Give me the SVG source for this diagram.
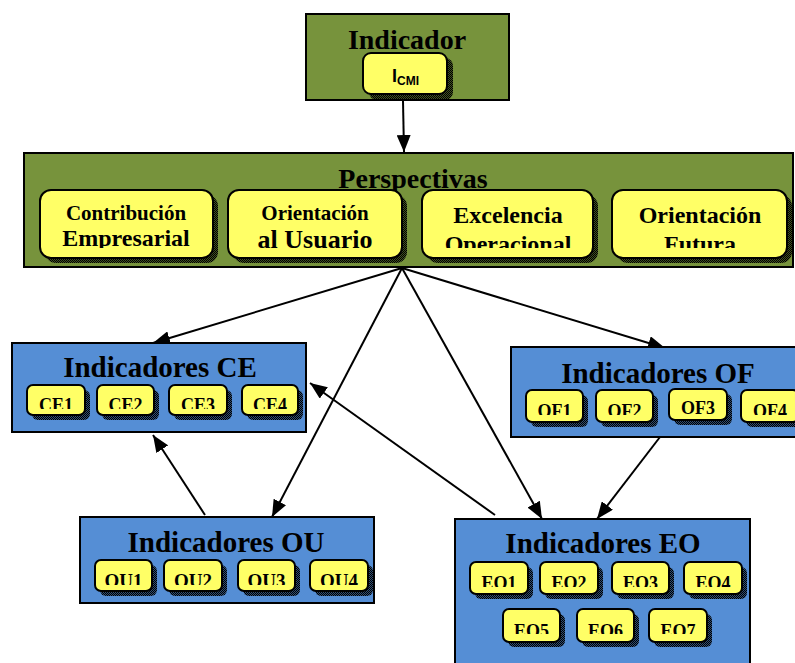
<svg xmlns="http://www.w3.org/2000/svg" width="795" height="663" viewBox="0 0 795 663">
<style>
.og{fill:#77933C;stroke:#000;stroke-width:2}
.ob{fill:#558ED5;stroke:#000;stroke-width:2}
.pill{fill:#FFFF66;stroke:#000;stroke-width:2}
.sh{fill:url(#dots)}
.t{font-family:"Liberation Serif","Times New Roman",serif;font-weight:bold;fill:#000;text-anchor:middle}
.s{font-family:"Liberation Sans",Arial,sans-serif;font-weight:bold;fill:#000}
.c{fill:none;stroke:#000;stroke-width:2;marker-end:url(#ah)}
</style>
<defs>
<pattern id="dots" width="2" height="2" patternUnits="userSpaceOnUse">
<rect x="0" y="0" width="1" height="1" fill="#000"/>
<rect x="1" y="1" width="1" height="1" fill="#000"/>
<rect x="1" y="0" width="1" height="1" fill="#000" fill-opacity="0.45"/>
<rect x="0" y="1" width="1" height="1" fill="#000" fill-opacity="0.45"/>
</pattern>
<marker id="ah" markerUnits="userSpaceOnUse" markerWidth="18" markerHeight="14" refX="17" refY="7" orient="auto">
<path d="M0,0 L17,7 L0,14 Z" fill="#000"/>
</marker>
<clipPath id="cp"><rect x="0" y="0" width="795" height="248"/></clipPath>
<clipPath id="cce"><rect x="0" y="0" width="795" height="409"/></clipPath>
<clipPath id="cof"><rect x="0" y="0" width="795" height="415"/></clipPath>
<clipPath id="cou"><rect x="0" y="0" width="795" height="585"/></clipPath>
<clipPath id="ceo1"><rect x="0" y="0" width="795" height="587"/></clipPath>
<clipPath id="ceo2"><rect x="0" y="0" width="795" height="634"/></clipPath>
</defs>
<rect width="795" height="663" fill="#fff"/>

<g id="connectors">
<line class="c" x1="403" y1="101" x2="404" y2="152"/>
<line class="c" x1="402" y1="268" x2="153" y2="343"/>
<line class="c" x1="402" y1="268" x2="272" y2="517"/>
<line class="c" x1="402" y1="268" x2="542" y2="519"/>
<line class="c" x1="402" y1="268" x2="665" y2="348"/>
<line class="c" x1="495" y1="515" x2="310" y2="383"/>
<line class="c" x1="205" y1="515" x2="153" y2="435"/>
<line class="c" x1="660" y1="437" x2="597" y2="519"/>
</g>

<g id="indicador">
<rect class="og" x="306" y="14" width="203" height="86"/>
<text class="t" x="407" y="49" font-size="28">Indicador</text>
<rect class="sh" x="369" y="58" width="84" height="42" rx="8"/>
<rect class="pill" x="363" y="53" width="84" height="41" rx="8"/>
<text class="s" x="392" y="82" font-size="18">I<tspan font-size="12" dy="3">CMI</tspan></text>
</g>

<g id="perspectivas">
<rect class="og" x="24" y="153" width="769" height="114"/>
<text class="t" x="413" y="188" font-size="28">Perspectivas</text>
<rect class="sh" x="45" y="195" width="173" height="68" rx="11"/>
<rect class="sh" x="233" y="195" width="174" height="68" rx="11"/>
<rect class="sh" x="427" y="195" width="171" height="68" rx="11"/>
<rect class="sh" x="617" y="195" width="175" height="68" rx="11"/>
<g id="contribucion"><rect class="pill" x="40" y="190" width="173" height="68" rx="11"/></g>
<g id="orient-usuario"><rect class="pill" x="228" y="190" width="174" height="68" rx="11"/></g>
<g id="excelencia"><rect class="pill" x="422" y="190" width="171" height="68" rx="11"/></g>
<g id="orient-futura"><rect class="pill" x="612" y="190" width="175" height="68" rx="11"/></g>
<g clip-path="url(#cp)">
<text class="t" x="126" y="220" font-size="21">Contribución</text>
<text class="t" x="126" y="246" font-size="24">Empresarial</text>
<text class="t" x="315" y="220" font-size="21">Orientación</text>
<text class="t" x="315" y="248" font-size="26">al Usuario</text>
<text class="t" x="508" y="223" font-size="24">Excelencia</text>
<text class="t" x="508" y="252" font-size="24">Operacional</text>
<text class="t" x="700" y="223" font-size="24">Orientación</text>
<text class="t" x="700" y="252" font-size="24">Futura</text>
</g>
</g>

<g id="indicadores-ce">
<rect class="ob" x="12" y="343" width="294" height="89"/>
<text class="t" x="160" y="377" font-size="29">Indicadores CE</text>
<rect class="sh" x="32" y="390" width="58" height="30" rx="6"/>
<rect class="sh" x="102" y="390" width="57" height="30" rx="6"/>
<rect class="sh" x="174" y="390" width="58" height="30" rx="6"/>
<rect class="sh" x="247" y="390" width="56" height="30" rx="6"/>
<rect class="pill" x="27" y="385" width="58" height="30" rx="6"/>
<rect class="pill" x="97" y="385" width="57" height="30" rx="6"/>
<rect class="pill" x="169" y="385" width="58" height="30" rx="6"/>
<rect class="pill" x="242" y="385" width="56" height="30" rx="6"/>
<g clip-path="url(#cce)" font-size="18">
<text class="t" x="56" y="411">CE1</text>
<text class="t" x="125.5" y="411">CE2</text>
<text class="t" x="198" y="411">CE3</text>
<text class="t" x="270" y="411">CE4</text>
</g>
</g>

<g id="indicadores-of">
<rect class="ob" x="511" y="347" width="290" height="90"/>
<text class="t" x="658" y="383" font-size="29">Indicadores OF</text>
<rect class="sh" x="531" y="395" width="57" height="32" rx="6"/>
<rect class="sh" x="601" y="395" width="57" height="32" rx="6"/>
<rect class="sh" x="674" y="394" width="58" height="31" rx="6"/>
<rect class="sh" x="746" y="395" width="58" height="32" rx="6"/>
<rect class="pill" x="526" y="390" width="57" height="32" rx="6"/>
<rect class="pill" x="596" y="390" width="57" height="32" rx="6"/>
<rect class="pill" x="669" y="389" width="58" height="31" rx="6"/>
<rect class="pill" x="741" y="390" width="58" height="32" rx="6"/>
<g clip-path="url(#cof)" font-size="18">
<text class="t" x="554.5" y="417">OF1</text>
<text class="t" x="624.5" y="417">OF2</text>
<text class="t" x="770" y="417">OF4</text>
</g>
<text class="t" x="698" y="414" font-size="18">OF3</text>
</g>

<g id="indicadores-ou">
<rect class="ob" x="80" y="517" width="294" height="86"/>
<text class="t" x="226" y="552" font-size="29">Indicadores OU</text>
<rect class="sh" x="100" y="565" width="57" height="31" rx="6"/>
<rect class="sh" x="169" y="565" width="58" height="31" rx="6"/>
<rect class="sh" x="243" y="565" width="57" height="31" rx="6"/>
<rect class="sh" x="315" y="565" width="58" height="31" rx="6"/>
<rect class="pill" x="95" y="560" width="57" height="31" rx="6"/>
<rect class="pill" x="164" y="560" width="58" height="31" rx="6"/>
<rect class="pill" x="238" y="560" width="57" height="31" rx="6"/>
<rect class="pill" x="310" y="560" width="58" height="31" rx="6"/>
<g clip-path="url(#cou)" font-size="19">
<text class="t" x="123.5" y="587">OU1</text>
<text class="t" x="193" y="587">OU2</text>
<text class="t" x="266.5" y="587">OU3</text>
<text class="t" x="339" y="587">OU4</text>
</g>
</g>

<g id="indicadores-eo">
<rect class="ob" x="455" y="519" width="295" height="150"/>
<text class="t" x="603" y="553" font-size="29">Indicadores EO</text>
<rect class="sh" x="475" y="567" width="58" height="32" rx="6"/>
<rect class="sh" x="545" y="567" width="58" height="32" rx="6"/>
<rect class="sh" x="617" y="567" width="57" height="32" rx="6"/>
<rect class="sh" x="689" y="567" width="58" height="32" rx="6"/>
<rect class="sh" x="508" y="614" width="57" height="33" rx="6"/>
<rect class="sh" x="582" y="614" width="57" height="33" rx="6"/>
<rect class="sh" x="654" y="614" width="58" height="33" rx="6"/>
<rect class="pill" x="470" y="562" width="58" height="32" rx="6"/>
<rect class="pill" x="540" y="562" width="58" height="32" rx="6"/>
<rect class="pill" x="612" y="562" width="57" height="32" rx="6"/>
<rect class="pill" x="684" y="562" width="58" height="32" rx="6"/>
<rect class="pill" x="503" y="609" width="57" height="33" rx="6"/>
<rect class="pill" x="577" y="609" width="57" height="33" rx="6"/>
<rect class="pill" x="649" y="609" width="58" height="33" rx="6"/>
<g clip-path="url(#ceo1)" font-size="18">
<text class="t" x="499" y="589">EO1</text>
<text class="t" x="569" y="589">EO2</text>
<text class="t" x="640.5" y="589">EO3</text>
<text class="t" x="713" y="589">EO4</text>
</g>
<g clip-path="url(#ceo2)" font-size="18">
<text class="t" x="531.5" y="637">EO5</text>
<text class="t" x="605.5" y="637">EO6</text>
<text class="t" x="678" y="637">EO7</text>
</g>
</g>
</svg>
